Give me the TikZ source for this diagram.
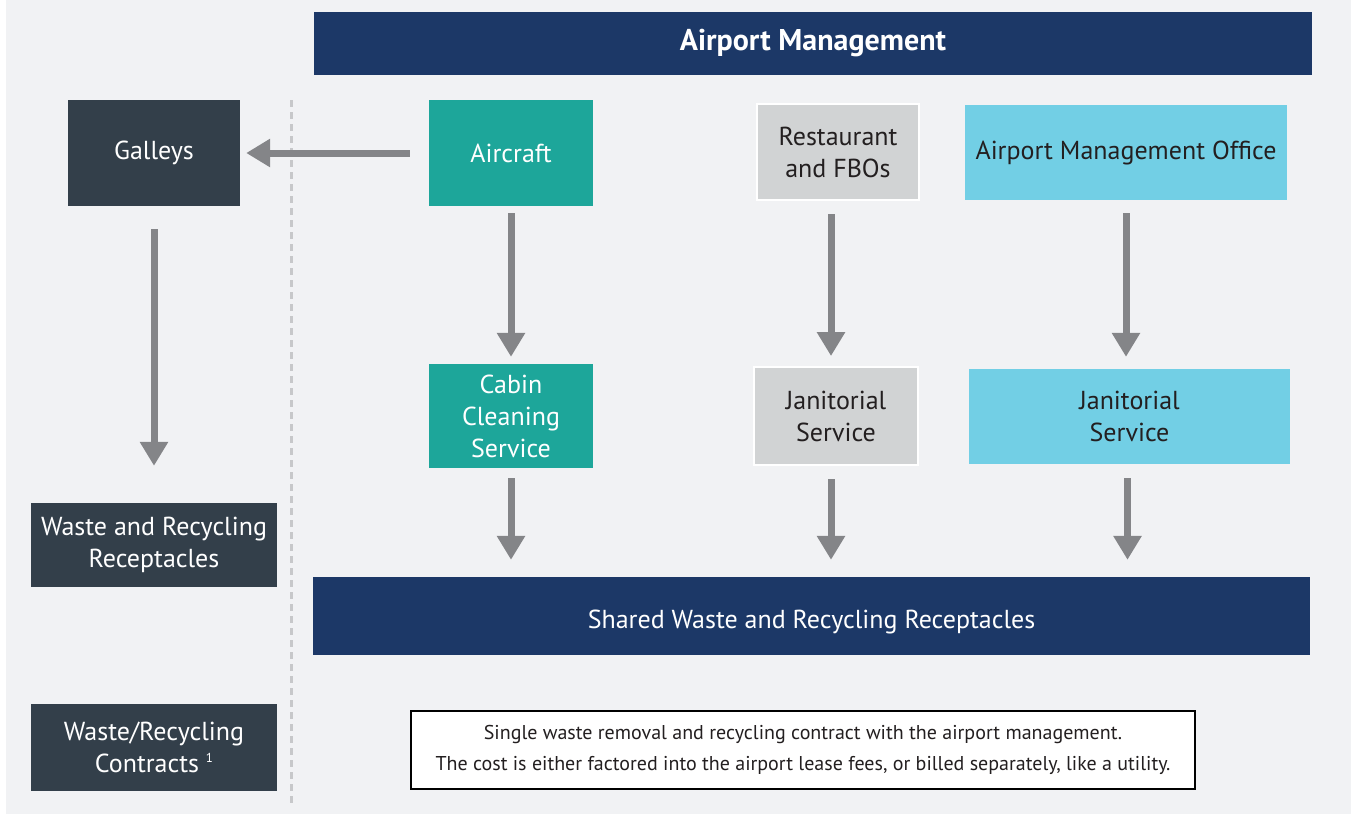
\documentclass[tikz,border=0pt]{standalone}
\usepackage{fontspec}
\setmainfont{PT Sans}
\usetikzlibrary{arrows.meta, positioning}
\definecolor{pagegray}{HTML}{F1F2F4}
\definecolor{mgmtnavy}{HTML}{1C3867}
\definecolor{slatedark}{HTML}{333F4A}
\definecolor{cabinteal}{HTML}{1DA69A}
\definecolor{tenantgray}{HTML}{D1D3D4}
\definecolor{officeblue}{HTML}{72CFE5}
\definecolor{flowgray}{HTML}{848588}
\definecolor{dividergray}{HTML}{C7C8CA}
\definecolor{inkdark}{HTML}{231F20}

\begin{document}
\begin{tikzpicture}[
      x=1pt, y=-1pt,
      box/.style={inner sep=0pt, align=center,
        font=\fontsize{26}{32}\selectfont},
      navybox/.style={box, fill=mgmtnavy, text=white},
      slatebox/.style={box, fill=slatedark, text=white},
      tealbox/.style={box, fill=cabinteal, text=white},
      graybox/.style={box, fill=tenantgray, draw=white, line width=2pt, text=inkdark},
      bluebox/.style={box, fill=officeblue, text=inkdark},
      flow/.style={draw=flowgray, line width=7pt,
        -{Triangle[width=27pt, length=24pt]}},
      >=Latex
    ]
      \fill[white] (0,0) rectangle (1351,815);
      \fill[pagegray] (6,0) rectangle (1351,814);
      \useasboundingbox (0,0) rectangle (1351,815);

      \draw[dividergray, line width=3pt, dash pattern=on 7pt off 5pt]
        (291,100) -- (291,805);

      \node[navybox, minimum width=998pt, minimum height=63pt,
        font=\fontsize{30}{32}\selectfont\bfseries] (mgmt) at (813,43.5)
        {Airport Management};

      \node[slatebox, minimum width=172pt, minimum height=106pt] (galleys)
        at (154,153) {Galleys};
      \node[tealbox, minimum width=164pt, minimum height=106pt] (aircraft)
        at (511,153) {Aircraft};
      \node[graybox, minimum width=162pt, minimum height=96pt] (restaurant)
        at (838,152) {Restaurant\\and FBOs};
      \node[bluebox, minimum width=322pt, minimum height=95pt] (office)
        at (1126,152.5) {Airport Management Office};

      \node[tealbox, minimum width=164pt, minimum height=104pt] (cabin)
        at (511,416) {Cabin\\Cleaning\\Service};
      \node[graybox, minimum width=164pt, minimum height=98pt] (janitorgray)
        at (836,416) {Janitorial\\Service};
      \node[bluebox, minimum width=321pt, minimum height=95pt] (janitorblue)
        at (1129.5,416.5) {Janitorial\\Service};

      \node[slatebox, minimum width=246pt, minimum height=84pt] (receptacles)
        at (154,545) {Waste and Recycling\\Receptacles};
      \node[navybox, minimum width=997pt, minimum height=78pt, text height=30pt] (shared)
        at (811.5,616) {Shared Waste and Recycling Receptacles};

      \node[slatebox, minimum width=246pt, minimum height=87pt] (contracts)
        at (154,747.5) {Waste/Recycling\\Contracts \raisebox{10pt}{\fontsize{13}{13}\selectfont 1}};
      \node[box, fill=white, draw=black, line width=2pt, text=inkdark,
        minimum width=784pt, minimum height=78pt,
        font=\fontsize{20}{31}\selectfont] (contract note) at (803,750)
        {Single waste removal and recycling contract with the airport management.\\
         The cost is either factored into the airport lease fees, or billed separately, like a utility.};

      \draw[flow, shorten <=19pt, shorten >=6pt] (aircraft.west) -- (aircraft.west -| galleys.east);
      \draw[flow, shorten <=23pt, shorten >=37pt] (galleys.south) -- (receptacles.north);
      \draw[flow, shorten <=7pt, shorten >=7pt] (aircraft.south) -- (cabin.north);
      \draw[flow, shorten <=13pt, shorten >=10pt] ([xshift=-7pt]restaurant.south) -- ([xshift=-7pt]restaurant.south |- janitorgray.north);
      \draw[flow, shorten <=13pt, shorten >=12pt] (office.south) -- (office.south |- janitorblue.north);
      \draw[flow, shorten <=10pt, shorten >=17pt] (cabin.south) -- (cabin.south |- shared.north);
      \draw[flow, shorten <=13pt, shorten >=17pt] ([xshift=-5pt]janitorgray.south) -- ([xshift=-5pt]janitorgray.south |- shared.north);
      \draw[flow, shorten <=14pt, shorten >=17pt] ([xshift=-2pt]janitorblue.south) -- ([xshift=-2pt]janitorblue.south |- shared.north);
    \end{tikzpicture}
\end{document}
